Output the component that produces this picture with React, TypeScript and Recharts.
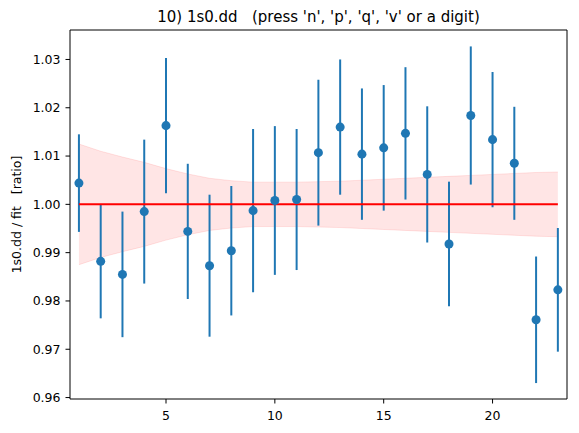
import React from "react";
import {
  ComposedChart,
  Scatter,
  ErrorBar,
  Area,
  Line,
  XAxis,
  YAxis,
  ReferenceArea,
} from "recharts";

const positions = [1, 2, 3, 4, 5, 6, 7, 8, 9, 10, 11, 12, 13, 14, 15, 16, 17, 18, 19, 20, 21, 22, 23];
const ratios = [
  1.0044, 0.9882, 0.9855, 0.9985, 1.0163, 0.9944, 0.9873, 0.9904, 0.9987, 1.0008, 1.001, 1.0107,
  1.016, 1.0104, 1.0117, 1.0147, 1.0062, 0.9918, 1.0184, 1.0134, 1.0085, 0.9761, 0.9823,
];
const errors = [
  0.0101, 0.0118, 0.013, 0.0149, 0.014, 0.014, 0.0147, 0.0134, 0.0169, 0.0154, 0.0146, 0.0151,
  0.014, 0.0136, 0.013, 0.0137, 0.0141, 0.0129, 0.0143, 0.014, 0.0117, 0.0131, 0.0128,
];
const bandHalf = [
  0.0125, 0.011, 0.0098, 0.0087, 0.0074, 0.0063, 0.0054, 0.0049, 0.0046, 0.0046, 0.0046, 0.0047,
  0.0048, 0.005, 0.0052, 0.0054, 0.0056, 0.0058, 0.006, 0.0062, 0.0064, 0.0066, 0.0067,
];
const fitLevel = 1.0;
const yTicks = [0.96, 0.97, 0.98, 0.99, 1.0, 1.01, 1.02, 1.03];
const xTicks = [5, 10, 15, 20];
const xDomain: [number, number] = [0.59, 23.42];
const yDomain: [number, number] = [0.9597, 1.0361];

const title = "10) 1s0.dd   (press 'n', 'p', 'q', 'v' or a digit)";
const yLabel = "1s0.dd / fit   [ratio]";

const data = positions.map((x, i) => ({
  x,
  y: ratios[i],
  err: errors[i],
  band: [fitLevel - bandHalf[i], fitLevel + bandHalf[i]],
  fit: fitLevel,
}));

const FONT = "'DejaVu Sans', sans-serif";
const BLUE = "#1f77b4";

export default function App() {
  return (
    <div style={{ position: "absolute", left: 0, top: 0, width: 579, height: 433, background: "#fff" }}>
      <div
        style={{
          position: "absolute",
          left: 0,
          width: 637,
          top: 8,
          textAlign: "center",
          fontFamily: FONT,
          fontSize: 15,
          whiteSpace: "pre",
          color: "#000",
          lineHeight: "18px",
        }}
      >
        {title}
      </div>
      <ComposedChart
        width={579}
        height={433}
        data={data}
        margin={{ top: 30, right: 12, left: 0, bottom: 0 }}
      >
        <XAxis
          type="number"
          dataKey="x"
          domain={xDomain}
          ticks={xTicks}
          allowDataOverflow
          height={34}
          tickSize={4.5}
          tickMargin={8}
          axisLine={false}
          tickLine={{ stroke: "#000", strokeWidth: 1 }}
          tick={{ fill: "#000", fontFamily: FONT, fontSize: 12.5 }}
        />
        <YAxis
          type="number"
          domain={yDomain}
          ticks={yTicks}
          allowDataOverflow
          width={70}
          tickSize={4.5}
          tickMargin={5}
          axisLine={false}
          tickLine={{ stroke: "#000", strokeWidth: 1 }}
          tick={{ fill: "#000", fontFamily: FONT, fontSize: 12.5 }}
          tickFormatter={(v: number) => v.toFixed(2)}
          label={() => (
            <text
              x={16}
              y={214.5}
              transform="rotate(-90 16 214.5)"
              textAnchor="middle"
              dominantBaseline="central"
              fontFamily={FONT}
              fontSize={12.5}
              fill="#000"
              style={{ whiteSpace: "pre" }}
            >
              {yLabel}
            </text>
          )}
        />
        <Area
          type="linear"
          dataKey="band"
          fill="#ff0000"
          fillOpacity={0.1}
          stroke="#ff0000"
          strokeOpacity={0.1}
          strokeWidth={1}
          isAnimationActive={false}
          activeDot={false}
          dot={false}
        />
        <Scatter dataKey="y" fill={BLUE} isAnimationActive={false}>
          <ErrorBar dataKey="err" direction="y" width={0} strokeWidth={2} stroke={BLUE} />
        </Scatter>
        <Line
          type="linear"
          dataKey="fit"
          stroke="#ff0000"
          strokeWidth={2}
          dot={false}
          activeDot={false}
          isAnimationActive={false}
        />
        <ReferenceArea
          x1={xDomain[0]}
          x2={xDomain[1]}
          y1={yDomain[0]}
          y2={yDomain[1]}
          fill="none"
          stroke="#000"
          strokeWidth={1}
          ifOverflow="visible"
        />
      </ComposedChart>
    </div>
  );
}
